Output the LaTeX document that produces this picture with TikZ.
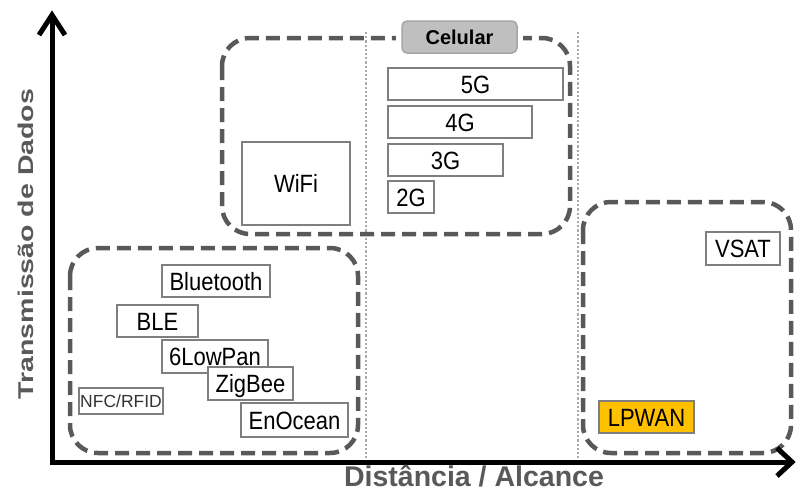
\documentclass[tikz,border=0pt]{standalone}
\usepackage{fontspec}
\setmainfont{Liberation Sans}
\newfontfamily\boxfont[FakeStretch=0.88]{Liberation Sans}
\definecolor{dashgray}{HTML}{595959}
\definecolor{sepgray}{HTML}{ABABAB}
\definecolor{boxgray}{HTML}{7F7F7F}
\definecolor{celfill}{HTML}{BFBFBF}
\definecolor{celdraw}{HTML}{A6A6A6}
\definecolor{lpwan}{HTML}{FFC000}
\definecolor{labgray}{HTML}{595959}
\begin{document}
\begin{tikzpicture}[x=1pt,y=-1pt,
  grp/.style={draw=dashgray, line width=4.5pt, dash pattern=on 14pt off 7pt, rounded corners=28pt},
  sep/.style={draw=sepgray, line width=2.6pt, dash pattern=on 2.2pt off 2pt},
  tbox/.style={draw=boxgray, line width=1.8pt, fill=white, inner sep=0pt,
    font=\boxfont\fontsize{25}{25}\selectfont, text height=18pt, text depth=0pt},
  axisline/.style={line width=5pt, line join=miter},
  axlab/.style={text=labgray, font=\bfseries\fontsize{28.5}{28.5}\selectfont, inner sep=0pt},
  celbox/.style={fill=celfill, draw=celdraw, line width=1.5pt, rounded corners=5pt, inner sep=0pt,
    font=\bfseries\fontsize{20}{20}\selectfont, text height=14.5pt, text depth=0pt}
]
\useasboundingbox (0,0) rectangle (798,491);

% separators
\draw[sep] (366,32) -- (366,462);
\draw[sep] (578,32) -- (578,462);

% group boxes
\draw[grp] (222,38) rectangle (570,234);
\draw[grp] (70,248) rectangle (358,453);
\draw[grp] (583,202) rectangle (791,453);

% axes
\draw[axisline] (52,15) -- (52,462) -- (792,462);
\draw[axisline] (39,35) -- (52,15) -- (65,35);
\draw[axisline] (777,448) -- (792,462) -- (777,476);

\node[axlab, rotate=90, anchor=base] (ylab) at (33,244) {\scalebox{1}[0.75]{Transmissão de Dados}};
\node[axlab, anchor=base] (xlab) at (474,486.5) {Distância / Alcance};

% Celular label
\fill[white] (396,28) rectangle (523,48);
\node[celbox, minimum width=115pt, minimum height=32pt] (cel) at (459.5,37) {Celular};

% cellular
\node[tbox, minimum width=175pt, minimum height=32pt] (g5) at (475.5,84) {5G};
\node[tbox, minimum width=144pt, minimum height=32pt] (g4) at (460,122) {4G};
\node[tbox, minimum width=115pt, minimum height=32pt] (g3) at (445.5,160) {3G};
\node[tbox, minimum width=46pt, minimum height=32pt] (g2) at (411,197) {2G};
\node[tbox, minimum width=108pt, minimum height=83pt] (wifi) at (296,183.5) {WiFi};

% short range
\node[tbox, minimum width=108pt, minimum height=32pt] (bt) at (216,281) {Bluetooth};
\node[tbox, minimum width=81pt, minimum height=32pt] (ble) at (157.5,321) {BLE};
\node[tbox, minimum width=106pt, minimum height=33pt] (lowpan) at (215,356.5) {6LowPan};
\node[tbox, minimum width=85pt, minimum height=33pt] (zig) at (250.5,383.5) {ZigBee};
\node[tbox, minimum width=107pt, minimum height=34pt] (enocean) at (294.5,420) {EnOcean};
\node[tbox, minimum width=84pt, minimum height=26pt, text=black!80,
  font=\fontsize{17.5}{17.5}\selectfont, text height=12.5pt] (nfc) at (121,401) {NFC/RFID};

% long range
\node[tbox, minimum width=74pt, minimum height=33pt] (vsat) at (743,248.5) {VSAT};
\node[tbox, fill=lpwan, minimum width=95pt, minimum height=32pt] (lpwan) at (646.5,417) {LPWAN};
\end{tikzpicture}
\end{document}
